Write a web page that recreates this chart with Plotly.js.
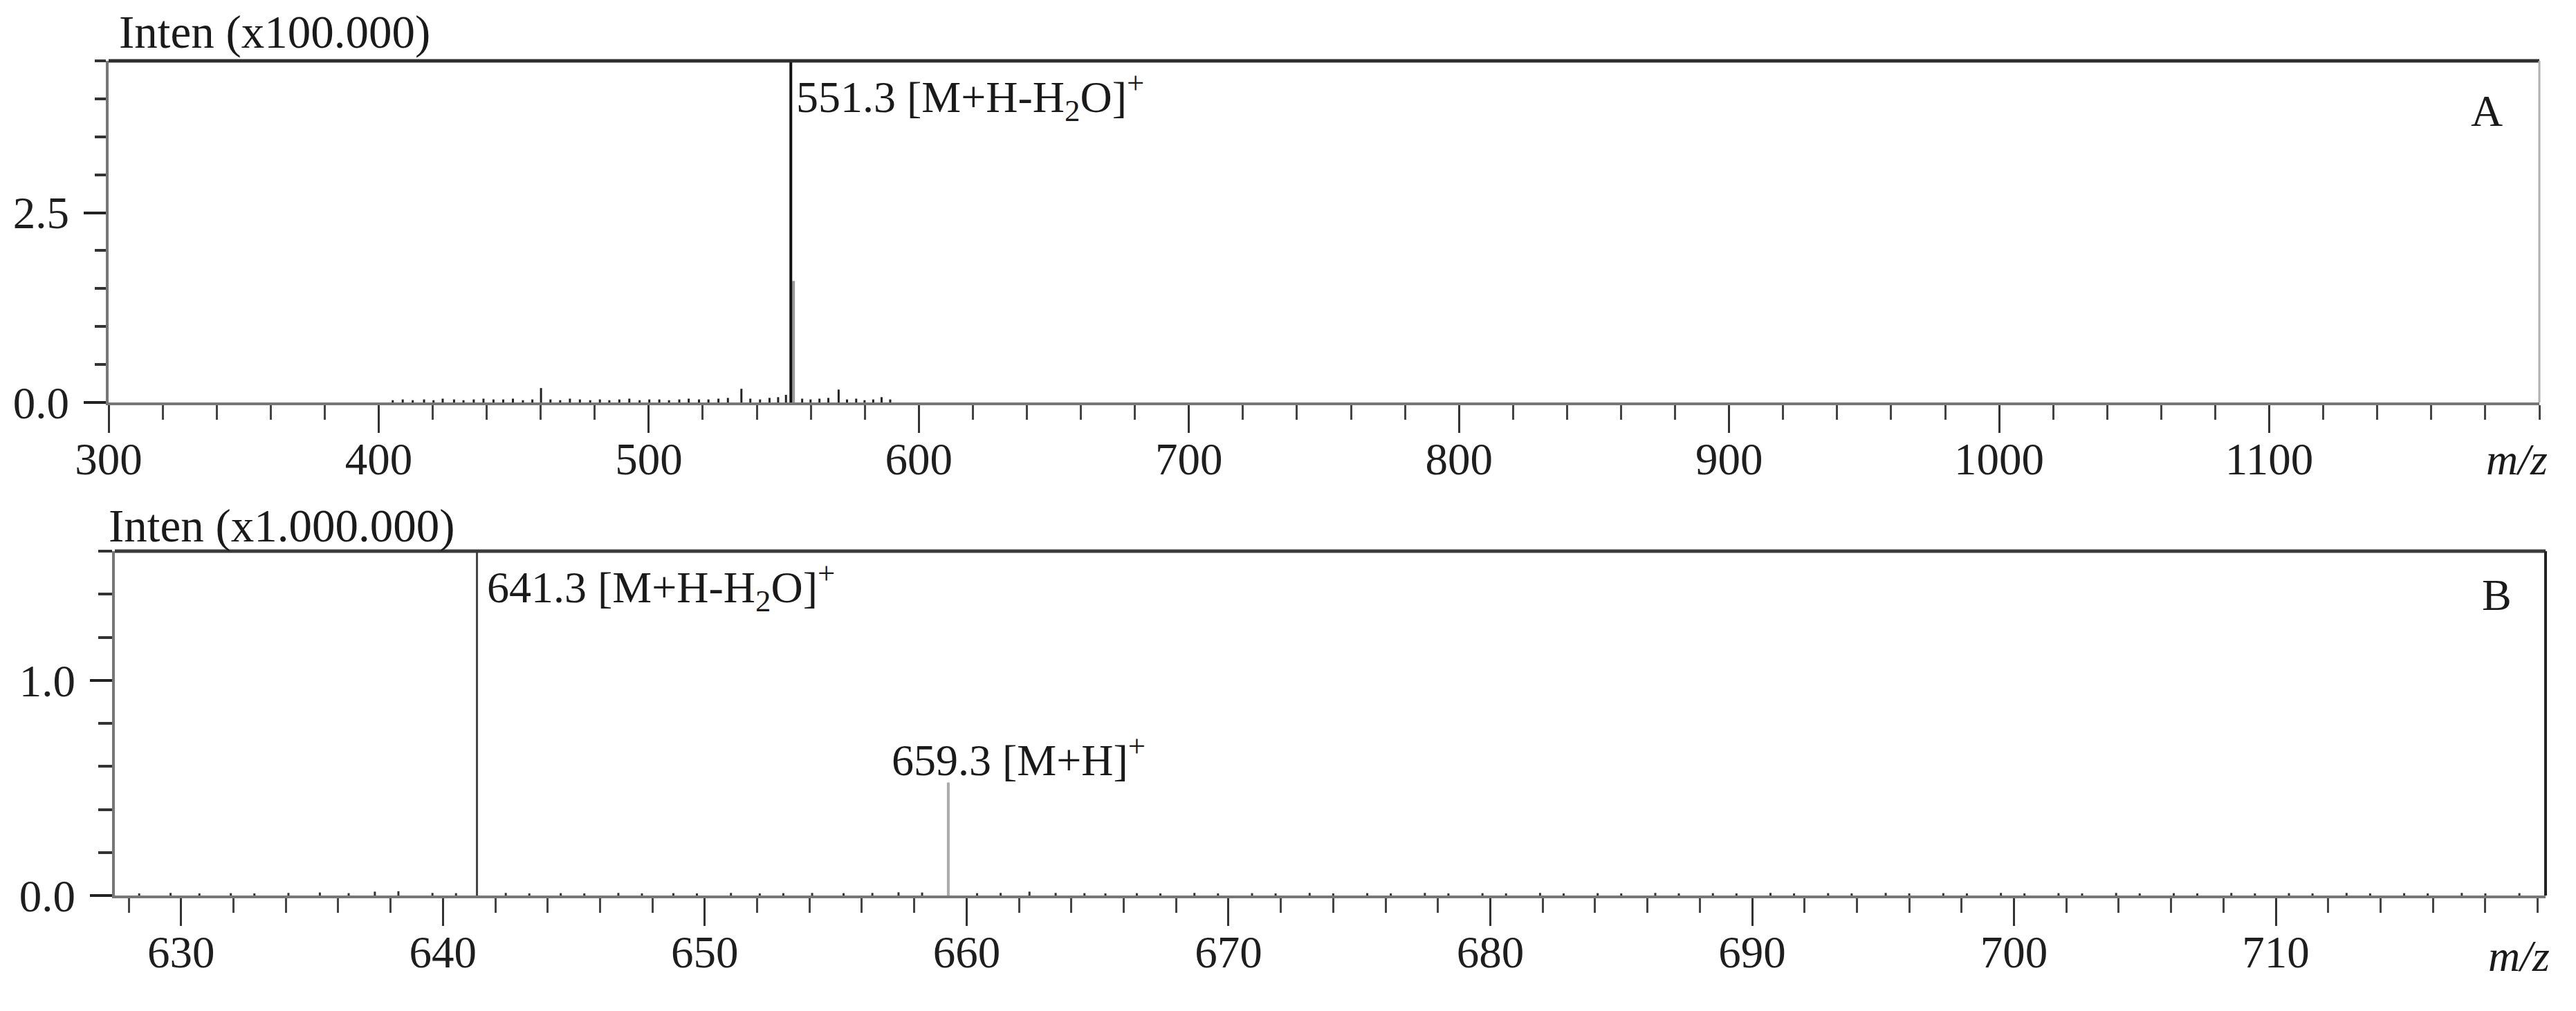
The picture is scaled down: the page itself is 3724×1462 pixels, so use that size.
<!DOCTYPE html>
<html>
<head>
<meta charset="utf-8">
<script src="https://cdn.plot.ly/plotly-3.0.1.min.js"></script>
<style>
  html, body { margin: 0; padding: 0; background: #ffffff; }
  #chart { width: 3724px; height: 1462px; }
</style>
</head>
<body>
<div id="chart"></div>
<script>
// ---------------- Panel A data (intensity in x100.000) ----------------
const aMainMz = [552.6];
const aMainInt = [4.5];
const aIsoMz = [553.6];
const aIsoInt = [1.6];
const aMinorMz = [460.1, 534.3, 550.8, 570.3, 586.2];
const aMinorInt = [0.19, 0.18, 0.10, 0.17, 0.07];
const aNoiseMz = [405.2, 408.9, 412.6, 416.8, 420.3, 423.7, 427.9, 431.4, 435.2, 438.8,
                  442.5, 446.1, 449.7, 453.4, 456.9, 463.6, 467.2, 470.8, 474.5, 478.3,
                  481.9, 485.4, 489.1, 492.8, 496.6, 500.2, 503.9, 507.5, 511.3, 514.8,
                  518.6, 522.1, 525.8, 529.3, 537.6, 541.2, 544.7, 547.9, 556.8, 559.9,
                  563.2, 566.5, 573.4, 576.8, 579.9, 583.1, 589.4];
const aNoiseInt = [0.03, 0.04, 0.03, 0.04, 0.03, 0.05, 0.04, 0.03, 0.04, 0.05,
                   0.04, 0.04, 0.05, 0.03, 0.04, 0.04, 0.03, 0.05, 0.04, 0.03,
                   0.04, 0.03, 0.04, 0.05, 0.03, 0.04, 0.04, 0.03, 0.04, 0.05,
                   0.04, 0.04, 0.05, 0.06, 0.05, 0.04, 0.06, 0.07, 0.05, 0.04,
                   0.05, 0.06, 0.04, 0.05, 0.03, 0.04, 0.04];
const aTickVals = [300, 400, 500, 600, 700, 800, 900, 1000, 1100];
const aTickText = ['300', '400', '500', '600', '700', '800', '900', '1000', '1100'];
const aEndTick = [1200];
const aYTickVals = [0, 2.5];
const aYTickText = ['0.0', '2.5'];

// ---------------- Panel B data (intensity in x1.000.000) ----------------
const bMainMz = [641.3];
const bMainInt = [1.64];
const bSecMz = [659.3];
const bSecInt = [0.525];
const bNoiseMz = [628.4, 629.6, 630.7, 631.9, 632.8, 634.1, 635.3, 636.4, 637.4, 638.3,
                  639.6, 640.5, 642.4, 643.3, 644.5, 645.4, 646.7, 647.6, 648.8, 649.7,
                  651.0, 652.1, 653.0, 654.1, 655.3, 656.4, 657.4, 658.3, 660.4, 661.3,
                  662.4, 663.4, 664.5, 665.3, 666.5, 667.4, 668.7, 669.6, 670.9, 671.8,
                  673.1, 674.0, 675.3, 676.2, 677.5, 678.4, 679.7, 680.6, 681.9, 682.8,
                  684.1, 685.0, 686.3, 687.2, 688.5, 689.4, 690.7, 691.6, 692.9, 693.8,
                  695.1, 696.0, 697.3, 698.2, 699.5, 700.4, 701.7, 702.6, 703.9, 704.8,
                  706.1, 707.0, 708.3, 709.2, 710.5, 711.4, 712.7, 713.6, 714.9, 715.8,
                  717.1, 718.0, 719.3];
const bNoiseInt = [0.010, 0.012, 0.010, 0.011, 0.010, 0.012, 0.014, 0.011, 0.018, 0.020,
                   0.012, 0.011, 0.012, 0.010, 0.011, 0.010, 0.012, 0.010, 0.011, 0.010,
                   0.012, 0.010, 0.011, 0.012, 0.011, 0.012, 0.015, 0.014, 0.011, 0.012,
                   0.018, 0.012, 0.011, 0.010, 0.011, 0.010, 0.012, 0.010, 0.011, 0.010,
                   0.012, 0.010, 0.011, 0.010, 0.012, 0.010, 0.011, 0.010, 0.012, 0.010,
                   0.011, 0.010, 0.012, 0.010, 0.011, 0.010, 0.012, 0.010, 0.011, 0.010,
                   0.012, 0.010, 0.011, 0.010, 0.012, 0.010, 0.011, 0.010, 0.012, 0.010,
                   0.011, 0.010, 0.012, 0.010, 0.011, 0.010, 0.012, 0.010, 0.011, 0.010,
                   0.012, 0.010, 0.011];
const bTickVals = [630, 640, 650, 660, 670, 680, 690, 700, 710];
const bTickText = ['630', '640', '650', '660', '670', '680', '690', '700', '710'];
const bEndTick = [720];
const bYTickVals = [0, 1.0];
const bYTickText = ['0.0', '1.0'];

// ---------------- helpers ----------------
function sticks(mz, inten, color, width, xa, ya) {
  const x = [], y = [];
  for (let i = 0; i < mz.length; i++) {
    x.push(mz[i], mz[i], null);
    y.push(0, inten[i], null);
  }
  return { type: 'scatter', mode: 'lines', x: x, y: y, xaxis: xa, yaxis: ya,
           line: { color: color, width: width }, hoverinfo: 'skip', showlegend: false };
}

const W = 3724, H = 1462;
const FONT = 'Liberation Serif, Times New Roman, serif';
const px2x = v => v / W;
const px2y = v => 1 - v / H;

const data = [
  sticks(aNoiseMz, aNoiseInt, '#222222', 3, 'x', 'y'),
  sticks(aMinorMz, aMinorInt, '#222222', 3, 'x', 'y'),
  sticks(aIsoMz, aIsoInt, '#9a9a9a', 4, 'x', 'y'),
  sticks(aMainMz, aMainInt, '#111111', 4, 'x', 'y'),
  sticks(bNoiseMz, bNoiseInt, '#333333', 3, 'x2', 'y2'),
  sticks(bSecMz, bSecInt, '#aaaaaa', 4, 'x2', 'y2'),
  sticks(bMainMz, bMainInt, '#444444', 3, 'x2', 'y2')
];

const tickFont = { family: FONT, size: 65, color: '#1e1e1e' };

function xAxis(domain, range, vals, text, anchor, t0, dminor) {
  return {
    domain: domain, range: range, anchor: anchor,
    tickmode: 'array', tickvals: vals, ticktext: text,
    ticks: 'outside', ticklen: 40, tickwidth: 3, tickcolor: '#333333',
    showline: true, linecolor: '#777777', linewidth: 4,
    showgrid: false, zeroline: false, tickfont: tickFont, ticklabelstandoff: -18,
    minor: { tickmode: 'linear', tick0: t0, dtick: dminor, ticks: 'outside',
             ticklen: 21, tickwidth: 3, tickcolor: '#444444', showgrid: false }
  };
}
function yAxis(domain, range, vals, text, anchor, dminor, mlen) {
  return {
    domain: domain, range: range, anchor: anchor,
    tickmode: 'array', tickvals: vals, ticktext: text,
    ticks: 'outside', ticklen: 32, tickwidth: 4, tickcolor: '#222222',
    showline: true, linecolor: '#777777', linewidth: 4,
    showgrid: false, zeroline: false, tickfont: tickFont, ticklabelstandoff: 8,
    minor: { tickmode: 'linear', tick0: 0, dtick: dminor, ticks: 'outside',
             ticklen: mlen, tickwidth: 4, tickcolor: '#333333', showgrid: false }
  };
}

const annFont = { family: FONT, size: 64, color: '#1a1a1a' };
const intenFont = { family: FONT, size: 67, color: '#1a1a1a' };

function endTickShape(xref, yref, val, color) {
  return { type: 'line', xref: xref, yref: yref, x0: val, x1: val,
           ysizemode: 'pixel', yanchor: 0, y0: 0, y1: -40,
           line: { color: color, width: 3 } };
}

const layout = {
  width: W, height: H,
  margin: { l: 0, r: 0, t: 0, b: 0 },
  paper_bgcolor: '#ffffff', plot_bgcolor: '#ffffff',
  showlegend: false,
  xaxis: xAxis([px2x(157), px2x(3671)], [300, 1200], aTickVals, aTickText, 'y', 300, 20),
  yaxis: yAxis([px2y(582), px2y(88)], [0, 4.5], aYTickVals, aYTickText, 'x', 0.5, 16),
  xaxis2: xAxis([px2x(166), px2x(3680)], [627.47, 720.3], bTickVals, bTickText, 'y2', 628, 2),
  yaxis2: yAxis([px2y(1295), px2y(797)], [0, 1.6], bYTickVals, bYTickText, 'x2', 0.2, 20),
  shapes: [
    { type: 'line', xref: 'x domain', yref: 'y domain', x0: 0, x1: 1, y0: 1, y1: 1,
      line: { color: '#2e2e2e', width: 5 } },
    { type: 'line', xref: 'x domain', yref: 'y domain', x0: 1, x1: 1, y0: 0, y1: 1,
      line: { color: '#b0b0b0', width: 3 } },
    { type: 'line', xref: 'x2 domain', yref: 'y2 domain', x0: 0, x1: 1, y0: 1, y1: 1,
      line: { color: '#3a3a3a', width: 5 } },
    { type: 'line', xref: 'x2 domain', yref: 'y2 domain', x0: 1, x1: 1, y0: 0, y1: 1,
      line: { color: '#222222', width: 4 } },
    endTickShape('x', 'y', aEndTick[0], '#b0b0b0'),
    endTickShape('x2', 'y2', bEndTick[0], '#333333')
  ],
  annotations: [
    { text: 'Inten (x100.000)', xref: 'paper', yref: 'paper', x: px2x(170), y: px2y(47),
      xanchor: 'left', yanchor: 'middle', showarrow: false, font: intenFont },
    { text: 'Inten (x1.000.000)', xref: 'paper', yref: 'paper', x: px2x(155), y: px2y(761),
      xanchor: 'left', yanchor: 'middle', showarrow: false, font: intenFont },
    { text: '551.3 [M+H-H<sub>2</sub>O]<sup>+</sup>', xref: 'x', yref: 'paper', x: aMainMz[0],
      xshift: 6, y: px2y(140), xanchor: 'left', yanchor: 'middle', showarrow: false, font: annFont },
    { text: '641.3 [M+H-H<sub>2</sub>O]<sup>+</sup>', xref: 'x2', yref: 'paper', x: bMainMz[0],
      xshift: 12, y: px2y(849), xanchor: 'left', yanchor: 'middle', showarrow: false, font: annFont },
    { text: '659.3 [M+H]<sup>+</sup>', xref: 'x2', yref: 'paper', x: bSecMz[0],
      xshift: -84, y: px2y(1094), xanchor: 'left', yanchor: 'middle', showarrow: false, font: annFont },
    { text: 'A', xref: 'paper', yref: 'paper', x: px2x(3595), y: px2y(160),
      xanchor: 'center', yanchor: 'middle', showarrow: false, font: annFont },
    { text: 'B', xref: 'paper', yref: 'paper', x: px2x(3609), y: px2y(860),
      xanchor: 'center', yanchor: 'middle', showarrow: false, font: annFont },
    { text: '<i>m/z</i>', xref: 'paper', yref: 'paper', x: px2x(3638), y: px2y(665),
      xanchor: 'center', yanchor: 'middle', showarrow: false, font: annFont },
    { text: '<i>m/z</i>', xref: 'paper', yref: 'paper', x: px2x(3641), y: px2y(1382),
      xanchor: 'center', yanchor: 'middle', showarrow: false, font: annFont }
  ]
};

Plotly.newPlot('chart', data, layout, { staticPlot: true, displayModeBar: false });
</script>
</body>
</html>
